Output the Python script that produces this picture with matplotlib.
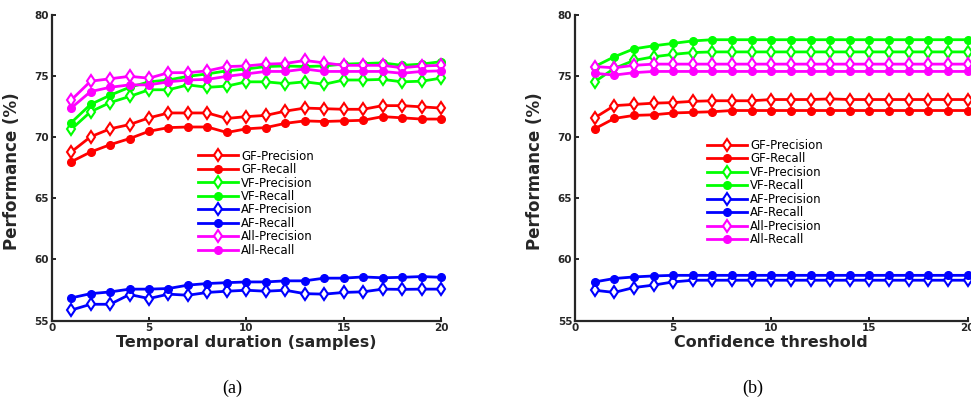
import matplotlib
matplotlib.use("Agg")
import matplotlib.pyplot as plt

x = list(range(1, 21))

# (a) temporal duration
a_gf_prec = [68.8, 70.05, 70.7, 71.05, 71.6, 72.0, 72.0, 72.0, 71.55, 71.7,
             71.8, 72.15, 72.4, 72.35, 72.3, 72.3, 72.6, 72.6, 72.5, 72.4]
a_gf_rec = [68.0, 68.8, 69.4, 69.9, 70.5, 70.8, 70.85, 70.85, 70.4, 70.7,
            70.8, 71.15, 71.35, 71.3, 71.35, 71.4, 71.7, 71.6, 71.5, 71.5]
a_vf_prec = [70.65, 72.1, 72.85, 73.35, 73.9, 73.9, 74.3, 74.1, 74.2, 74.55,
             74.55, 74.4, 74.55, 74.35, 74.7, 74.7, 74.75, 74.55, 74.6, 74.85]
a_vf_rec = [71.2, 72.7, 73.45, 74.1, 74.55, 74.7, 75.0, 75.2, 75.45, 75.6,
            75.8, 75.85, 75.8, 75.85, 76.0, 76.05, 76.1, 75.9, 76.0, 76.2]
a_af_prec = [55.85, 56.33, 56.33, 57.13, 56.8, 57.16, 57.07, 57.3, 57.4, 57.48,
             57.4, 57.48, 57.2, 57.16, 57.3, 57.35, 57.57, 57.55, 57.57, 57.57]
a_af_rec = [56.85, 57.2, 57.34, 57.57, 57.57, 57.62, 57.9, 58.03, 58.1, 58.16,
            58.16, 58.25, 58.25, 58.47, 58.47, 58.57, 58.5, 58.54, 58.6, 58.54]
a_all_prec = [73.05, 74.6, 74.8, 75.0, 74.85, 75.3, 75.3, 75.45, 75.8, 75.85,
              76.0, 76.05, 76.3, 76.1, 75.9, 75.9, 75.9, 75.7, 75.85, 75.9]
a_all_rec = [72.4, 73.75, 74.1, 74.3, 74.3, 74.55, 74.7, 74.75, 75.0, 75.2,
             75.4, 75.4, 75.6, 75.4, 75.4, 75.4, 75.4, 75.25, 75.4, 75.45]

# (b) confidence threshold
b_gf_prec = [71.6, 72.6, 72.7, 72.8, 72.85, 72.95, 73.0, 73.0, 73.0, 73.1,
             73.1, 73.1, 73.15, 73.1, 73.1, 73.1, 73.1, 73.1, 73.1, 73.1]
b_gf_rec = [70.7, 71.55, 71.8, 71.85, 72.0, 72.05, 72.1, 72.2, 72.2, 72.2,
            72.2, 72.2, 72.2, 72.2, 72.2, 72.2, 72.2, 72.2, 72.2, 72.2]
b_vf_prec = [74.55, 75.65, 76.3, 76.6, 76.8, 76.95, 77.0, 77.0, 77.0, 77.0,
             77.0, 77.0, 77.0, 77.0, 77.0, 77.0, 77.0, 77.0, 77.0, 77.0]
b_vf_rec = [75.8, 76.6, 77.25, 77.5, 77.7, 77.9, 78.0, 78.0, 78.0, 78.0,
            78.0, 78.0, 78.0, 78.0, 78.0, 78.0, 78.0, 78.0, 78.0, 78.0]
b_af_prec = [57.48, 57.3, 57.7, 57.9, 58.16, 58.3, 58.3, 58.3, 58.3, 58.3,
             58.3, 58.3, 58.3, 58.3, 58.3, 58.3, 58.3, 58.3, 58.3, 58.3]
b_af_rec = [58.16, 58.44, 58.57, 58.65, 58.7, 58.7, 58.7, 58.7, 58.7, 58.7,
            58.7, 58.7, 58.7, 58.7, 58.7, 58.7, 58.7, 58.7, 58.7, 58.7]
b_all_prec = [75.8, 75.7, 75.9, 76.0, 76.0, 76.0, 76.0, 76.0, 76.0, 76.0,
              76.0, 76.0, 76.0, 76.0, 76.0, 76.0, 76.0, 76.0, 76.0, 76.0]
b_all_rec = [75.25, 75.1, 75.3, 75.4, 75.4, 75.4, 75.4, 75.4, 75.4, 75.4,
             75.4, 75.4, 75.4, 75.4, 75.4, 75.4, 75.4, 75.4, 75.4, 75.4]

labels = ["GF-Precision", "GF-Recall", "VF-Precision", "VF-Recall",
          "AF-Precision", "AF-Recall", "All-Precision", "All-Recall"]
colors = ["#ff0000", "#ff0000", "#00ff00", "#00ff00",
          "#0000ff", "#0000ff", "#ff00ff", "#ff00ff"]

dark = "#262626"


def draw(ax, series, xlabel, leg_anchor):
    for i, (vals, lab, c) in enumerate(zip(series, labels, colors)):
        if i % 2 == 0:
            # precision: open diamonds
            ax.plot(x, vals, color=c, lw=2.0, marker="d", ms=6.5, mfc="white",
                    mec=c, mew=1.5, label=lab, clip_on=False)
        else:
            # recall: filled circles
            ax.plot(x, vals, color=c, lw=2.0, marker="o", ms=5.5, mfc=c,
                    mec=c, label=lab, clip_on=False)
    ax.set_xlim(0, 20)
    ax.set_ylim(55, 80)
    ax.set_xticks([0, 5, 10, 15, 20])
    ax.set_yticks([55, 60, 65, 70, 75, 80])
    for s in ["top", "right"]:
        ax.spines[s].set_visible(False)
    for s in ["left", "bottom"]:
        ax.spines[s].set_color(dark)
        ax.spines[s].set_linewidth(1.6)
    ax.tick_params(direction="in", length=3, width=1.4, color=dark,
                   labelcolor=dark, labelsize=7.5, pad=2)
    for t in ax.get_xticklabels() + ax.get_yticklabels():
        t.set_fontweight("bold")
    ax.set_xlabel(xlabel, fontsize=11.5, fontweight="bold", color=dark, labelpad=1)
    ax.set_ylabel("Performance (%)", fontsize=12, fontweight="bold", color=dark)
    ax.yaxis.set_label_coords(-0.078, 0.49)
    ax.legend(loc="upper left", bbox_to_anchor=leg_anchor, frameon=False,
              fontsize=8.5, handlelength=3.4, handletextpad=0.3,
              labelspacing=0.04, borderpad=0, borderaxespad=0)


fig = plt.figure(figsize=(9.71, 3.99), dpi=100)
ax1 = fig.add_axes([0.0532, 0.1967, 0.401, 0.765])
ax2 = fig.add_axes([0.5922, 0.1967, 0.4042, 0.765])

draw(ax1, [a_gf_prec, a_gf_rec, a_vf_prec, a_vf_rec,
           a_af_prec, a_af_rec, a_all_prec, a_all_rec],
     "Temporal duration (samples)", (0.375, 0.56))
draw(ax2, [b_gf_prec, b_gf_rec, b_vf_prec, b_vf_rec,
           b_af_prec, b_af_rec, b_all_prec, b_all_rec],
     "Confidence threshold", (0.335, 0.595))

fig.text(232 / 971, 1 - 388 / 399, "(a)", ha="center", va="center",
         fontsize=13, family="Liberation Serif")
fig.text(753 / 971, 1 - 388 / 399, "(b)", ha="center", va="center",
         fontsize=13, family="Liberation Serif")

fig.savefig("out.png", dpi=100)
